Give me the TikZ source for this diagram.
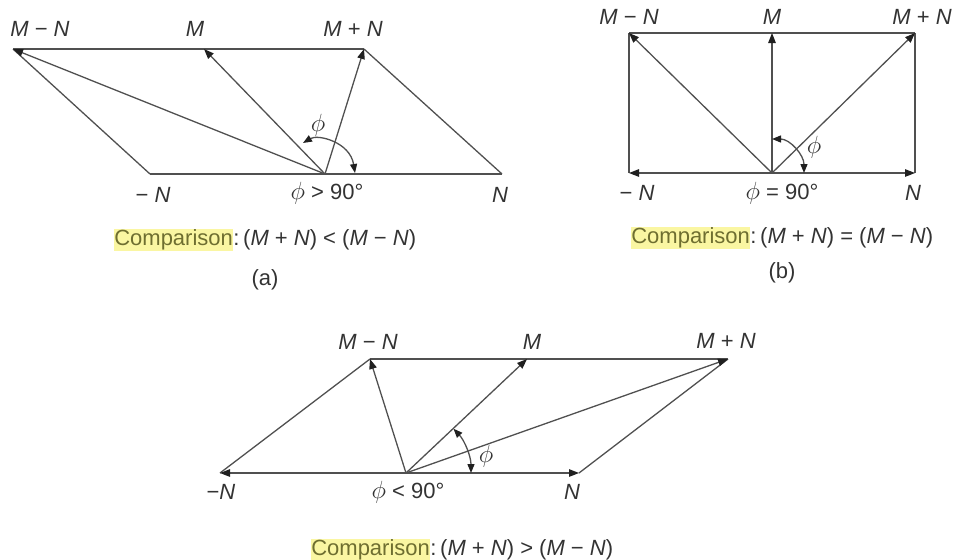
\documentclass[tikz,border=0pt]{standalone}
\usepackage{fontspec}
\setmainfont{Liberation Sans}
\usetikzlibrary{arrows.meta}

\definecolor{linegray}{HTML}{505050}
\definecolor{tipgray}{HTML}{202020}
\definecolor{textgray}{HTML}{333333}
\definecolor{hilite}{HTML}{FAF6A2}
\definecolor{hitext}{HTML}{6E6E30}

\newcommand{\vM}{\textit{M}}
\newcommand{\vN}{\textit{N}}
\newcommand{\angsym}{{\fontsize{27}{30}\selectfont$\phi$}}
\newcommand{\cmpword}{{\setlength{\fboxsep}{0.5pt}\colorbox{hilite}{\textcolor{hitext}{Comparison}}}}

\tikzset{
  side/.style={draw=linegray, line width=1.3pt},
  vec/.style={side, -{Triangle[length=10pt,width=7.5pt,color=tipgray]}},
  anglearc/.style={side, {Triangle[length=9pt,width=7pt,color=tipgray]}-{Triangle[length=9pt,width=7pt,color=tipgray]}},
  lbl/.style={text=textgray, font=\fontsize{22}{26}\selectfont, inner sep=0pt},
}

\begin{document}
\begin{tikzpicture}[x=1pt, y=-1pt]
  \useasboundingbox (0,0) rectangle (954,560);

  % (a) phi > 90
  \coordinate (a0) at (325,174);
  \coordinate (aN) at (502,174);
  \coordinate (anN) at (150,174);
  \coordinate (aM) at (204,49);
  \coordinate (aMN) at (13,49);
  \coordinate (aMpN) at (364,49);
  \coordinate (aArcS) at (303,143);
  \coordinate (aArcE) at (355,173);
  \draw[side] (anN) -- (aN);
  \draw[side] (aMN) -- (aMpN);
  \draw[side] (anN) -- (aMN);
  \draw[side] (aN) -- (aMpN);
  \draw[vec] (a0) -- (aMN);
  \draw[vec] (a0) -- (aM);
  \draw[vec] (a0) -- (aMpN);
  \draw[anglearc] (aArcS) .. controls (318,134) and (350,142) .. (aArcE);
  \node[lbl] (laMN) at (40,29) {\vM{} − \vN};
  \node[lbl] (laM) at (195,29) {\vM};
  \node[lbl] (laMpN) at (353,29) {\vM{} + \vN};
  \node[lbl] (lanN) at (153,195) {− \vN};
  \node[lbl] (laAng) at (327,193) {\angsym{} > 90°};
  \node[lbl] (laN) at (500,195) {\vN};
  \node[lbl] (laPhi) at (318,125) {\angsym};
  \node[lbl] (capA) at (265,240) {\cmpword:\,(\vM{} + \vN) < (\vM{} − \vN)};
  \node[lbl] (tagA) at (265,280) {(a)};

  % (b) phi = 90
  \coordinate (b0) at (772,173);
  \coordinate (bN) at (915,173);
  \coordinate (bnN) at (629,173);
  \coordinate (bM) at (772,33);
  \coordinate (bMN) at (629,33);
  \coordinate (bMpN) at (915,33);
  \coordinate (bArcS) at (772,139);
  \coordinate (bArcE) at (804,173);
  \draw[side] (bMN) -- (bMpN);
  \draw[side] (bnN) -- (bMN);
  \draw[side] (bN) -- (bMpN);
  \draw[vec] (b0) -- (bnN);
  \draw[vec] (b0) -- (bN);
  \draw[vec] (b0) -- (bM);
  \draw[vec] (b0) -- (bMN);
  \draw[vec] (b0) -- (bMpN);
  \draw[anglearc] (bArcS) .. controls (790,139) and (804,155) .. (bArcE);
  \node[lbl] (lbMN) at (629,17) {\vM{} − \vN};
  \node[lbl] (lbM) at (772,17) {\vM};
  \node[lbl] (lbMpN) at (922,17) {\vM{} + \vN};
  \node[lbl] (lbnN) at (637,193) {− \vN};
  \node[lbl] (lbAng) at (782,193) {\angsym{} = 90°};
  \node[lbl] (lbN) at (913,193) {\vN};
  \node[lbl] (lbPhi) at (814,147) {\angsym};
  \node[lbl] (capB) at (782,238) {\cmpword:\,(\vM{} + \vN) = (\vM{} − \vN)};
  \node[lbl] (tagB) at (782,273) {(b)};

  % (c) phi < 90
  \coordinate (c0) at (406,473);
  \coordinate (cN) at (579,473);
  \coordinate (cnN) at (220,473);
  \coordinate (cM) at (527,359);
  \coordinate (cMN) at (370,359);
  \coordinate (cMpN) at (728,359);
  \coordinate (cArcS) at (453.5,428.7);
  \coordinate (cArcE) at (471,473);
  \draw[side] (cMN) -- (cMpN);
  \draw[side] (cnN) -- (cMN);
  \draw[side] (cN) -- (cMpN);
  \draw[vec] (c0) -- (cnN);
  \draw[vec] (c0) -- (cN);
  \draw[vec] (c0) -- (cM);
  \draw[vec] (c0) -- (cMN);
  \draw[vec] (c0) -- (cMpN);
  \draw[anglearc] (cArcS) .. controls (464.7,440.7) and (471,456.6) .. (cArcE);
  \node[lbl] (lcMN) at (368,342) {\vM{} − \vN};
  \node[lbl] (lcM) at (532,342) {\vM};
  \node[lbl] (lcMpN) at (726,341) {\vM{} + \vN};
  \node[lbl] (lcnN) at (221,492) {−\vN};
  \node[lbl] (lcAng) at (408,492) {\angsym{} < 90°};
  \node[lbl] (lcN) at (572,492) {\vN};
  \node[lbl] (lcPhi) at (486,456) {\angsym};
  \node[lbl] (capC) at (462,550) {\cmpword:\,(\vM{} + \vN) > (\vM{} − \vN)};
\end{tikzpicture}
\end{document}
